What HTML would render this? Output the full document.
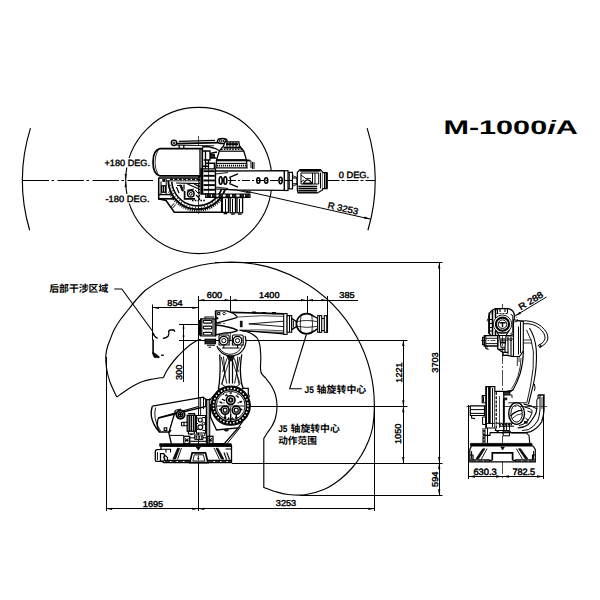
<!DOCTYPE html>
<html><head><meta charset="utf-8"><title>M-1000iA</title>
<style>
html,body{margin:0;padding:0;background:#fff;}
body{width:600px;height:600px;overflow:hidden;}
svg{display:block;font-family:"Liberation Sans",sans-serif;}
text{font-family:"Liberation Sans",sans-serif;text-rendering:geometricPrecision;}
text.cjk{font-family:"Liberation Sans","Noto Sans CJK SC",sans-serif;}
</style></head><body>
<svg width="600" height="600" viewBox="0 0 600 600" stroke="#000" fill="none" stroke-linecap="butt">
<rect x="0" y="0" width="600" height="600" fill="#fff" stroke="none"/>
<g id="top">
<circle cx="198.8" cy="180.5" r="73.1" stroke-width="1.1" fill="none" />
<rect x="103" y="158" width="49" height="9.5" fill="#fff" stroke="none"/><rect x="103" y="194" width="49" height="9.5" fill="#fff" stroke="none"/>
<path d="M367.12,128.07 A176.3,176.3 0 0 1 367.93,230.28" stroke-width="1.15" fill="none" />
<path d="M30.48,128.07 A176.3,176.3 0 0 0 29.67,230.28" stroke-width="1.15" fill="none" />
<line x1="22.5" y1="180.5" x2="153" y2="180.5" stroke-width="1.0" stroke-dasharray="26.5 2.5 2.5 3.5"/>
<line x1="327.5" y1="180.5" x2="375" y2="180.5" stroke-width="1.0" stroke-dasharray="12 2 3 2"/>
<line x1="198.5" y1="136" x2="198.5" y2="216" stroke-width="0.7" stroke-dasharray="10 2 2 2"/>
<path d="M125.80,179.90 L124.59,173.94 L126.59,173.87 Z" fill="#000" stroke="none"/>
<path d="M125.80,181.10 L126.59,187.13 L124.59,187.06 Z" fill="#000" stroke="none"/>
<line x1="243" y1="190.5" x2="370.3" y2="219.1" stroke-width="1.0" />
<path d="M370.60,219.10 L363.99,218.85 L364.52,216.51 Z" fill="#000" stroke="none"/>
<text x="104.5" y="166" font-size="9" text-anchor="start" font-weight="normal" fill="#000" stroke="#000" stroke-width="0.4" textLength="45.5" lengthAdjust="spacingAndGlyphs" >+180 DEG.</text>
<text x="105.5" y="202" font-size="9" text-anchor="start" font-weight="normal" fill="#000" stroke="#000" stroke-width="0.4" textLength="44" lengthAdjust="spacingAndGlyphs" >-180 DEG.</text>
<text x="338.7" y="177.7" font-size="9" text-anchor="start" font-weight="normal" fill="#000" stroke="#000" stroke-width="0.4" textLength="30.5" lengthAdjust="spacingAndGlyphs" >0 DEG.</text>
<text x="327.2" y="207.9" font-size="9" text-anchor="start" font-weight="normal" fill="#000" stroke="#000" stroke-width="0.4" textLength="31" lengthAdjust="spacingAndGlyphs" transform="rotate(12.65 327.2 207.9)" >R 3253</text>
<path d="M158.7,177.5 L158.7,198.8 L166,200.5 L174.3,212.3 L221.7,212.3 L221.7,197" stroke-width="1.5" fill="none" />
<path d="M158.7,178 L200,178" stroke-width="1.5" fill="none" />
<path d="M158,198.8 L174,198.8" stroke-width="1.7" fill="none" />
<path d="M158.7,194.6 L170.8,194.6" stroke-width="1.4" fill="none" />
<rect x="161.7" y="185.8" width="3.7" height="6.4" stroke-width="1.3" fill="#fff" />
<line x1="163.5" y1="186" x2="163.5" y2="192" stroke-width="1.0" />
<path d="M161,181.5 L161,194.6 M166.2,179 L166.2,194.6" stroke-width="1.0" fill="none" />
<rect x="162.8" y="179.3" width="2.2" height="2.2" stroke-width="0.8" fill="#000" />
<path d="M168.30,180.51 A29.2,29.2 0 0 0 225.27,189.02" stroke-width="1.9" fill="none" />
<path d="M171.76,181.80 A25.8,25.8 0 0 0 221.42,189.66" stroke-width="1.6" fill="none" />
<path d="M168.94,191.54 A30.8,30.8 0 0 0 221.09,199.80" stroke-width="1.9" fill="none" stroke-dasharray="1.0 1.2"/>
<path d="M170.42,184.78 A27.5,27.5 0 0 0 221.32,193.75" stroke-width="1.2" fill="none" stroke-dasharray="0.8 2.2"/>
<path d="M174.2,203.2 L170.8,207 M175.8,204.4 L172.4,208.2" stroke-width="1.0" fill="none" />
<path d="M166.7,180.8 L200,180.8" stroke-width="0.9" fill="none" />
<path d="M202.3,148.7 L160,148.7 Q153,150 153,162.3 Q153,174.6 160,175.9 L202.3,175.9 Z" stroke-width="1.7" fill="#fff" />
<line x1="200" y1="148.7" x2="200" y2="175.9" stroke-width="1.3" />
<path d="M158,150 Q155,156 155,162.3 Q155,168.6 158,174.6" stroke-width="0.8" fill="none" />
<circle cx="174" cy="142.8" r="2.7" stroke-width="1.4" fill="#fff" />
<circle cx="174" cy="142.8" r="0.9" stroke-width="1.0" fill="none" />
<path d="M176.8,143.6 L218.5,142.6" stroke-width="1.9" fill="none" />
<path d="M178.8,141.4 L215,140.4" stroke-width="1.1" fill="none" />
<path d="M176.5,145.2 L214,145.8" stroke-width="0.9" fill="none" />
<path d="M179.2,145 L179.2,148.5 M183.8,145 L183.8,148.5" stroke-width="1.3" fill="none" />
<ellipse cx="222.3" cy="141.0" rx="4.8" ry="2.6" stroke-width="1.5" fill="#fff" />
<ellipse cx="220.8" cy="141.0" rx="1.3" ry="1.3" stroke-width="1.0" fill="none" />
<ellipse cx="224.6" cy="141.0" rx="1.2" ry="1.2" stroke-width="1.0" fill="none" />
<path d="M225,141.8 L238.8,141.8 L239.5,146 L243.7,150.8 L246.5,160 L247,167.8 L216,167.8 L216.5,160 L219.4,150.8 L223.5,146 Z" stroke-width="1.3" fill="#fff" />
<path d="M226,144.2 L238,144.2" stroke-width="2.0" fill="none" />
<path d="M223.5,147.6 L241,147.6" stroke-width="2.0" fill="none" />
<path d="M227,142.3 L227,146.5 M230,142 L230,146.5 M233,142 L233,146.5 M236,142.3 L236,146.5" stroke-width="1.2" fill="none" />
<path d="M221,149.3 L242.5,149.3" stroke-width="1.2" fill="none" stroke-dasharray="1.6 1.2"/>
<path d="M219.4,151.2 L243.7,151.2" stroke-width="1.2" fill="none" />
<path d="M216.5,160.2 L246.5,160.2" stroke-width="2.2" fill="none" />
<path d="M216.5,163.4 L247,163.4" stroke-width="1.1" fill="none" />
<path d="M217,165.7 L247,165.7" stroke-width="1.8" fill="none" stroke-dasharray="1.2 0.8"/>
<path d="M247,160 L251,161 L251,168 M252.5,162 L252.5,169 M254,162 L254,169" stroke-width="1.0" fill="none" />
<path d="M246.5,160.5 L250,160.5" stroke-width="1.8" fill="none" />
<path d="M202.3,151 L210,151 L210,160 L203.7,160 M205.5,151 L205.5,170 M208.5,160 L208.5,169" stroke-width="1.3" fill="none" />
<path d="M210,153.5 L217,152 M210,158 L216.5,158 M208,146.5 L215.5,148.5 L219,150.5 M202,147 L208,146.5" stroke-width="1.3" fill="none" />
<path d="M206,163.2 L214.5,163.2 L214.5,169 M202.3,166.3 L208.5,166.3" stroke-width="1.5" fill="none" />
<rect x="210.5" y="154.5" width="4" height="3" stroke-width="0.9" fill="#222" />
<path d="M201,168.8 L215.5,168.8 L215.5,193.8 L201,193.8 Z" stroke-width="1.3" fill="#fff" />
<line x1="203.5" y1="171.2" x2="214.8" y2="171.2" stroke-width="1.9" />
<line x1="203.5" y1="175.8" x2="214.8" y2="175.8" stroke-width="1.9" />
<line x1="203.5" y1="180.5" x2="214.8" y2="180.5" stroke-width="1.9" />
<line x1="203.5" y1="185.1" x2="214.8" y2="185.1" stroke-width="1.9" />
<line x1="203.5" y1="189.8" x2="214.8" y2="189.8" stroke-width="1.9" />
<line x1="202.2" y1="168.8" x2="202.2" y2="193.8" stroke-width="2.2" />
<line x1="208.5" y1="169" x2="208.5" y2="193.5" stroke-width="0.7" />
<path d="M215.5,171 L284.4,170.7 L284.4,190.4 L237,190 L215.5,189 Z" stroke-width="1.3" fill="#fff" />
<rect x="284.4" y="170.7" width="3.6" height="19.8" stroke-width="1.2" fill="#fff" />
<rect x="289.2" y="172.3" width="3.3" height="16.6" stroke-width="1.2" fill="#fff" />
<line x1="288" y1="172.5" x2="289.2" y2="172.5" stroke-width="1.0" />
<line x1="288" y1="188.5" x2="289.2" y2="188.5" stroke-width="1.0" />
<ellipse cx="220.7" cy="180.5" rx="1.5" ry="3.7" stroke-width="1.6" fill="#fff" />
<ellipse cx="225.3" cy="180.5" rx="1.5" ry="3.7" stroke-width="1.6" fill="#fff" />
<ellipse cx="258.3" cy="180.5" rx="1.6" ry="2.7" stroke-width="1.6" fill="#fff" />
<ellipse cx="266.2" cy="180.5" rx="1.6" ry="2.7" stroke-width="1.6" fill="#fff" />
<ellipse cx="280.6" cy="180.5" rx="1.6" ry="3.2" stroke-width="1.6" fill="#fff" />
<path d="M238,173.8 L229.5,177.3 M229.5,183.7 L238,187.2 M229.5,177.3 Q232,180.5 229.5,183.7" stroke-width="1.3" fill="none" />
<path d="M215.5,174 L228,172.5 M215.5,187 L228,188.5" stroke-width="0.9" fill="none" />
<line x1="228" y1="180.5" x2="300" y2="180.5" stroke-width="1.0" stroke-dasharray="8 2 2 2"/>
<path d="M205.7,194 L250,194 L250,197.4 L205.7,197.4 Z" stroke-width="1.1" fill="#fff" />
<rect x="207" y="194.5" width="3.4" height="2.5" stroke-width="0.8" fill="#222" />
<rect x="212.5" y="194.5" width="3.4" height="2.5" stroke-width="0.8" fill="#222" />
<rect x="219" y="194.5" width="3.4" height="2.5" stroke-width="0.8" fill="#222" />
<rect x="226" y="194.5" width="3.4" height="2.5" stroke-width="0.8" fill="#222" />
<rect x="232.5" y="194.5" width="3.4" height="2.5" stroke-width="0.8" fill="#222" />
<rect x="240" y="194.5" width="3.4" height="2.5" stroke-width="0.8" fill="#222" />
<rect x="245.5" y="194.5" width="3.4" height="2.5" stroke-width="0.8" fill="#222" />
<path d="M237,190.2 L250,193 L250,190.6" stroke-width="1.0" fill="none" />
<rect x="222.3" y="197.6" width="6.2" height="14.8" stroke-width="1.3" fill="#fff" />
<rect x="230.2" y="197.6" width="5.3" height="15.2" stroke-width="1.3" fill="#fff" />
<rect x="237" y="197.6" width="5.6" height="15.2" stroke-width="1.3" fill="#fff" />
<line x1="225.5" y1="199" x2="225.5" y2="212" stroke-width="1.0" />
<line x1="232.5" y1="199" x2="232.5" y2="212.5" stroke-width="1.0" />
<line x1="239.5" y1="199" x2="239.5" y2="212.5" stroke-width="1.0" />
<path d="M223.7,213.6 L227.3,213.6 M231.2,214.2 L234.6,214.2 M238,214.2 L241.6,214.2" stroke-width="1.2" fill="none" />
<path d="M184.6,190.8 L184.6,198.8 L195,198.8" stroke-width="1.7" fill="none" />
<circle cx="190.8" cy="193.8" r="3.3" stroke-width="1.5" fill="#fff" />
<circle cx="190.8" cy="193.8" r="1.4" stroke-width="1.0" fill="none" />
<path d="M195,190 L198,193 M187,190.3 L194,189" stroke-width="1.0" fill="none" />
<path d="M179.6,185 L182,191 L183.5,191 L181.5,185 Z" stroke-width="0.8" fill="#111" />
<path d="M176,183 L199,183.6 M177,185.5 L181,185.5 M184,184.5 L184,189.5 M187.5,184 L199,189 M176.5,187 L179,193 M194,184 L199,186.5" stroke-width="1.2" fill="none" />
<path d="M170,179.3 L199,179.3" stroke-width="1.4" fill="none" stroke-dasharray="3 1.4"/>
<path d="M192,200.6 L206,200.6" stroke-width="1.5" fill="none" stroke-dasharray="1.6 1.2"/>
<path d="M199.2,176 L199.2,200" stroke-width="1.8" fill="none" stroke-dasharray="2.2 0.9"/>
<path d="M196,195 L199,198 M200.5,194 L205.7,194" stroke-width="1.2" fill="none" />
<rect x="292.5" y="178" width="4.5" height="5.8" stroke-width="1.1" fill="#fff" />
<path d="M292.5,175.5 L297,177.5 M292.5,186.3 L297,184.3" stroke-width="0.9" fill="none" />
<path d="M297.3,172.5 L300,169.6 L320.6,169.6 L322.5,172 L322.5,190 L317.5,193 L298,193 L297.3,190 Z" stroke-width="1.2" fill="#fff" />
<path d="M300,170.5 L320.6,170.5" stroke-width="2.4" fill="none" />
<line x1="298.3" y1="186.4" x2="317.2" y2="186.4" stroke-width="1.4" />
<line x1="298.3" y1="188.4" x2="317.2" y2="188.4" stroke-width="1.4" />
<line x1="298.3" y1="190.4" x2="317.2" y2="190.4" stroke-width="1.4" />
<line x1="298.3" y1="192.2" x2="317.2" y2="192.2" stroke-width="1.4" />
<path d="M301,173 L318.7,173 L318.7,184 L301,184 Z" stroke-width="1.0" fill="none" />
<path d="M303,184 Q307.5,175.8 312.3,184" stroke-width="1.2" fill="none" />
<path d="M301,175.2 L305,177.8 M301,181.8 L304,180" stroke-width="0.9" fill="none" />
<path d="M312.5,173 L312.5,184 M315,173 L315,184" stroke-width="1.0" fill="none" />
<path d="M304,183.4 L312,183.4" stroke-width="1.6" fill="none" />
<path d="M305,178.5 L311,178.5" stroke-width="0.8" fill="none" />
<line x1="320.5" y1="172.6" x2="320.5" y2="188.6" stroke-width="1.0" />
<path d="M322.5,172.6 L327,172.6 L327,188.6 L322.5,188.6" stroke-width="1.2" fill="#fff" />
<line x1="326.6" y1="172.6" x2="326.6" y2="188.6" stroke-width="2.2" />
<line x1="324.5" y1="173" x2="324.5" y2="188.3" stroke-width="1.0" />
</g>
<g id="side">
<path d="M116.70,397.00 C116.12,395.75 114.32,392.00 113.20,389.50 C112.08,387.00 111.00,384.92 110.00,382.00 C109.00,379.08 107.88,375.33 107.20,372.00 C106.52,368.67 106.10,365.00 105.90,362.00 C105.70,359.00 105.75,356.50 106.00,354.00 C106.25,351.50 106.73,349.33 107.40,347.00 C108.07,344.67 108.90,342.83 110.00,340.00 C111.10,337.17 112.25,333.42 114.00,330.00 C115.75,326.58 118.17,322.83 120.50,319.50 C122.83,316.17 125.42,313.25 128.00,310.00 C130.58,306.75 133.17,303.25 136.00,300.00 C138.83,296.75 143.50,292.08 145.00,290.50 A143.6,143.6 0 0 1 373.95,416.02 L374.00,416.00 C373.75,418.00 373.42,423.83 372.50,428.00 C371.58,432.17 370.33,436.50 368.50,441.00 C366.67,445.50 364.25,450.50 361.50,455.00 C358.75,459.50 355.58,463.92 352.00,468.00 C348.42,472.08 344.50,476.00 340.00,479.50 C335.50,483.00 330.83,486.45 325.00,489.00 C319.17,491.55 311.17,493.88 305.00,494.80 C298.83,495.72 293.00,495.05 288.00,494.50 C283.00,493.95 279.03,492.67 275.00,491.50 C270.97,490.33 265.67,488.17 263.80,487.50 L263.8,438.5 L263.80,438.50 C264.42,437.50 266.13,434.58 267.50,432.50 C268.87,430.42 270.67,428.42 272.00,426.00 C273.33,423.58 274.67,421.33 275.50,418.00 C276.33,414.67 277.00,409.83 277.00,406.00 C277.00,402.17 276.42,398.33 275.50,395.00 C274.58,391.67 273.08,388.75 271.50,386.00 C269.92,383.25 267.67,380.58 266.00,378.50 C264.33,376.42 262.42,375.25 261.50,373.50 C260.58,371.75 260.62,370.75 260.50,368.00 C260.38,365.25 260.92,360.83 260.80,357.00 C260.68,353.17 260.35,348.08 259.80,345.00 C259.25,341.92 258.80,340.33 257.50,338.50 C256.20,336.67 253.92,335.17 252.00,334.00 C250.08,332.83 247.92,332.13 246.00,331.50 C244.08,330.87 241.42,330.42 240.50,330.20" stroke-width="1.15" fill="none" />
<path d="M116.70,397.00 C118.37,395.83 123.65,392.00 126.70,390.00 C129.75,388.00 132.23,386.45 135.00,385.00 C137.77,383.55 140.52,382.27 143.30,381.30 C146.08,380.33 148.92,379.78 151.70,379.20 C154.48,378.62 158.07,378.10 160.00,377.80 C161.93,377.50 162.33,378.28 163.30,377.40 C164.27,376.52 164.68,374.43 165.80,372.50 C166.92,370.57 168.18,368.30 170.00,365.80 C171.82,363.30 174.48,360.00 176.70,357.50 C178.92,355.00 181.08,352.88 183.30,350.80 C185.52,348.72 187.77,346.67 190.00,345.00 C192.23,343.33 194.90,341.73 196.70,340.80 C198.50,339.87 200.12,339.63 200.80,339.40" stroke-width="1.15" fill="none" />
<line x1="106.5" y1="357" x2="106.5" y2="511" stroke-width="1.0" />
<line x1="374.5" y1="404" x2="374.5" y2="511" stroke-width="1.0" />
<line x1="198.5" y1="296" x2="198.5" y2="511" stroke-width="1.0" />
<line x1="230.5" y1="296" x2="230.5" y2="331" stroke-width="1.0" />
<line x1="230.5" y1="333" x2="230.5" y2="356" stroke-width="0.6" stroke-dasharray="9 2 2 2"/>
<line x1="307.5" y1="296" x2="307.5" y2="334" stroke-width="1.0" />
<line x1="327.5" y1="296" x2="327.5" y2="332.5" stroke-width="1.0" />
<line x1="152.5" y1="304.5" x2="152.5" y2="340" stroke-width="1.0" />
<line x1="198.3" y1="300.5" x2="358" y2="300.5" stroke-width="1.0" />
<path d="M198.30,300.20 L204.30,299.05 L204.30,301.35 Z" fill="#000" stroke="none"/>
<path d="M230.70,300.20 L224.70,301.35 L224.70,299.05 Z" fill="#000" stroke="none"/>
<path d="M230.70,300.20 L236.70,299.05 L236.70,301.35 Z" fill="#000" stroke="none"/>
<path d="M307.00,300.20 L301.00,301.35 L301.00,299.05 Z" fill="#000" stroke="none"/>
<path d="M307.00,300.20 L313.00,299.05 L313.00,301.35 Z" fill="#000" stroke="none"/>
<path d="M327.30,300.20 L321.30,301.35 L321.30,299.05 Z" fill="#000" stroke="none"/>
<text x="214.5" y="298" font-size="8.5" text-anchor="middle" font-weight="normal" fill="#000" stroke="#000" stroke-width="0.42" textLength="15.3" lengthAdjust="spacingAndGlyphs" >600</text>
<text x="269.3" y="298" font-size="8.5" text-anchor="middle" font-weight="normal" fill="#000" stroke="#000" stroke-width="0.42" textLength="20.4" lengthAdjust="spacingAndGlyphs" >1400</text>
<text x="347" y="298" font-size="8.5" text-anchor="middle" font-weight="normal" fill="#000" stroke="#000" stroke-width="0.42" textLength="15.3" lengthAdjust="spacingAndGlyphs" >385</text>
<line x1="153" y1="307.5" x2="198.3" y2="307.5" stroke-width="1.0" />
<path d="M153.00,307.80 L159.00,306.65 L159.00,308.95 Z" fill="#000" stroke="none"/>
<path d="M198.30,307.80 L192.30,308.95 L192.30,306.65 Z" fill="#000" stroke="none"/>
<text x="175" y="305.6" font-size="8.5" text-anchor="middle" font-weight="normal" fill="#000" stroke="#000" stroke-width="0.42" textLength="15.3" lengthAdjust="spacingAndGlyphs" >854</text>
<line x1="179" y1="324.5" x2="212" y2="324.5" stroke-width="1.0" />
<line x1="179" y1="340.5" x2="407.5" y2="340.5" stroke-width="1.0" />
<line x1="183.5" y1="324.3" x2="183.5" y2="382" stroke-width="1.0" />
<path d="M183.50,324.30 L184.50,328.80 L182.50,328.80 Z" fill="#000" stroke="none"/>
<path d="M183.50,340.00 L182.50,335.50 L184.50,335.50 Z" fill="#000" stroke="none"/>
<text x="181.8" y="372.4" font-size="8.5" text-anchor="middle" font-weight="normal" fill="#000" stroke="#000" stroke-width="0.42" textLength="15.3" lengthAdjust="spacingAndGlyphs" transform="rotate(-90 181.8 372.4)" >300</text>
<line x1="212" y1="323.5" x2="300" y2="323.5" stroke-width="0.6" stroke-dasharray="9 2 2 2"/>
<line x1="250" y1="406.5" x2="407.5" y2="406.5" stroke-width="1.0" />
<line x1="232" y1="463.5" x2="442.5" y2="463.5" stroke-width="1.0" />
<line x1="300" y1="495.5" x2="442.5" y2="495.5" stroke-width="1.0" />
<line x1="215" y1="262.5" x2="442.5" y2="262.5" stroke-width="1.0" />
<line x1="403.5" y1="340.0" x2="403.5" y2="463.0" stroke-width="1.0" />
<path d="M403.30,340.00 L404.45,346.00 L402.15,346.00 Z" fill="#000" stroke="none"/>
<path d="M403.30,406.30 L402.15,400.30 L404.45,400.30 Z" fill="#000" stroke="none"/>
<path d="M403.30,406.30 L404.45,412.30 L402.15,412.30 Z" fill="#000" stroke="none"/>
<path d="M403.30,463.00 L402.15,457.00 L404.45,457.00 Z" fill="#000" stroke="none"/>
<text x="401.5" y="372.5" font-size="8.5" text-anchor="middle" font-weight="normal" fill="#000" stroke="#000" stroke-width="0.42" textLength="20.4" lengthAdjust="spacingAndGlyphs" transform="rotate(-90 401.5 372.5)" >1221</text>
<text x="401.5" y="433.8" font-size="8.5" text-anchor="middle" font-weight="normal" fill="#000" stroke="#000" stroke-width="0.42" textLength="20.4" lengthAdjust="spacingAndGlyphs" transform="rotate(-90 401.5 433.8)" >1050</text>
<line x1="439.5" y1="262.5" x2="439.5" y2="495.2" stroke-width="1.0" />
<path d="M439.20,262.50 L440.35,268.50 L438.05,268.50 Z" fill="#000" stroke="none"/>
<path d="M439.20,463.00 L438.05,457.00 L440.35,457.00 Z" fill="#000" stroke="none"/>
<path d="M439.20,463.00 L440.35,469.00 L438.05,469.00 Z" fill="#000" stroke="none"/>
<path d="M439.20,495.20 L438.05,489.20 L440.35,489.20 Z" fill="#000" stroke="none"/>
<text x="437.6" y="362.5" font-size="8.5" text-anchor="middle" font-weight="normal" fill="#000" stroke="#000" stroke-width="0.42" textLength="20.4" lengthAdjust="spacingAndGlyphs" transform="rotate(-90 437.6 362.5)" >3703</text>
<text x="437.8" y="479.3" font-size="8.5" text-anchor="middle" font-weight="normal" fill="#000" stroke="#000" stroke-width="0.42" textLength="15.3" lengthAdjust="spacingAndGlyphs" transform="rotate(-90 437.8 479.3)" >594</text>
<line x1="106.2" y1="508.5" x2="374.3" y2="508.5" stroke-width="1.0" />
<path d="M106.20,508.80 L112.20,507.65 L112.20,509.95 Z" fill="#000" stroke="none"/>
<path d="M198.30,508.80 L192.30,509.95 L192.30,507.65 Z" fill="#000" stroke="none"/>
<path d="M198.30,508.80 L204.30,507.65 L204.30,509.95 Z" fill="#000" stroke="none"/>
<path d="M374.30,508.80 L368.30,509.95 L368.30,507.65 Z" fill="#000" stroke="none"/>
<text x="153" y="506.6" font-size="8.5" text-anchor="middle" font-weight="normal" fill="#000" stroke="#000" stroke-width="0.42" textLength="20.4" lengthAdjust="spacingAndGlyphs" >1695</text>
<text x="286" y="506" font-size="8.5" text-anchor="middle" font-weight="normal" fill="#000" stroke="#000" stroke-width="0.42" textLength="20.4" lengthAdjust="spacingAndGlyphs" >3253</text>
<text class="cjk" x="49.2" y="292.3" font-size="9.9" font-weight="bold" text-anchor="start" fill="#000" stroke="none" textLength="59.1" lengthAdjust="spacingAndGlyphs">后部干涉区域</text>
<path d="M114.3,289 L121.8,289 L152.8,331.5" stroke-width="1.1" fill="none" />
<text x="304.6" y="393.2" font-size="9.6" text-anchor="start" font-weight="bold" fill="#000" stroke="#000" stroke-width="0.1" textLength="9.3" lengthAdjust="spacingAndGlyphs" >J5</text>
<text class="cjk" x="316.6" y="393.2" font-size="9.9" font-weight="bold" text-anchor="start" fill="#000" stroke="none" textLength="49.7" lengthAdjust="spacingAndGlyphs">轴旋转中心</text>
<path d="M306.5,334 L289.7,388.8 L301.8,388.8" stroke-width="1.1" fill="none" />
<text x="278.2" y="431.6" font-size="9.6" text-anchor="start" font-weight="bold" fill="#000" stroke="#000" stroke-width="0.1" textLength="9.3" lengthAdjust="spacingAndGlyphs" >J5</text>
<text class="cjk" x="290.6" y="431.6" font-size="9.9" font-weight="bold" text-anchor="start" fill="#000" stroke="none" textLength="49.2" lengthAdjust="spacingAndGlyphs">轴旋转中心</text>
<text class="cjk" x="278.2" y="444.2" font-size="9.8" font-weight="bold" text-anchor="start" fill="#000" stroke="none" textLength="38.6" lengthAdjust="spacingAndGlyphs">动作范围</text>
<path d="M152.9,332.7 Q154,336.6 157.6,338.4" stroke-width="1.3" fill="none" />
<path d="M162.8,338.4 Q166.6,338.3 168.5,335.6 Q169.4,333.4 168.6,331.5 Q168.9,330 170.5,330 L173.6,330 Q174.7,330.3 174.7,331.8" stroke-width="1.3" fill="none" />
<path d="M153.1,339.5 L153.1,354" stroke-width="1.6" fill="none" />
<path d="M152.6,352.5 L154.8,353.2 L159.4,356.8 L159,357.8 L154.2,357.5 L153,355 Z" stroke-width="0.6" fill="#000" />
<path d="M161,355.2 L163.9,355.2" stroke-width="1.3" fill="none" />
<path d="M161,446 L231.5,446 L231.5,462.6 L164,462.6 L161.5,461.4 L156.5,461.4 Q155.3,461.4 155.3,460 L155.3,451.5 Q155.3,450 157,449.7 L161,449.3 Z" stroke-width="1.3" fill="#fff" />
<path d="M159.7,443.7 L231.3,443.7 L231.3,446.2 L159.7,446.2 Z" stroke-width="0.8" fill="#000" />
<path d="M192.2,452.8 L205.5,452.8 L208,462.6 L189.7,462.6 Z" stroke-width="1.7" fill="#fff" />
<path d="M194.3,454.8 L203.4,454.8 L204.8,461 L192.9,461 Z" stroke-width="0.9" fill="none" />
<path d="M198.3,455.5 L198.3,460.5 M197.3,458.5 L199.3,458.5" stroke-width="0.9" fill="none" />
<path d="M177.5,448.3 L173,459 L175.6,459 L179.6,448.3 Z" stroke-width="0.8" fill="#111" />
<path d="M218,448.3 L223.8,459 L221.4,459 L216,448.3 Z" stroke-width="0.8" fill="#111" />
<path d="M181.5,448 L177.5,459.5 M214,448 L219.5,459.5" stroke-width="0.9" fill="none" />
<path d="M164,460.4 L189.7,460.4 M208,460.4 L231,460.4" stroke-width="1.1" fill="none" />
<path d="M165,461.6 L189,461.6 M208.5,461.6 L231,461.6" stroke-width="0.9" fill="none" stroke-dasharray="5 1.5"/>
<path d="M161,449.2 L170.5,449.2 L170.5,452.5 M166,449.2 L166,452.5" stroke-width="1.1" fill="none" />
<path d="M160.5,453.7 L163.8,453.7 Q165.3,455.3 163.8,457.2 Q165.6,459 163.8,461.2 L160.5,461.2 Z" stroke-width="1.3" fill="none" />
<path d="M157.5,452 L157.5,460" stroke-width="0.9" fill="none" />
<path d="M164.5,455 L167.5,457.5 L167.5,460.4" stroke-width="1.1" fill="none" />
<path d="M225.5,449 L231.5,449 M226.8,452.5 L229.5,459.5 M224,452.5 L226.6,459.5" stroke-width="1.1" fill="none" />
<path d="M196.2,447 L200.4,447 L198.3,450.2 Z" stroke-width="0.6" fill="#000" />
<rect x="183.8" y="436.3" width="5.9" height="7.4" stroke-width="1.3" fill="#fff" />
<rect x="207.2" y="436.3" width="5.8" height="7.4" stroke-width="1.3" fill="#fff" />
<path d="M185,438 L188.5,442.5 M188.5,438 L185,442.5 M208.4,438 L211.8,442.5 M211.8,438 L208.4,442.5" stroke-width="0.9" fill="none" />
<path d="M185,440.2 L188.6,440.2 M208.4,440.2 L211.8,440.2" stroke-width="1.4" fill="none" />
<path d="M189.7,441.3 L207.2,441.3" stroke-width="1.1" fill="none" />
<path d="M194.7,435 L203,435 L203,439.4 L194.7,439.4 Z" stroke-width="1.0" fill="#fff" />
<path d="M195.5,436.6 L202.5,436.6 M195.5,438.2 L202.5,438.2" stroke-width="1.3" fill="none" stroke-dasharray="1.8 0.9"/>
<path d="M190,437.8 L194.7,437.8 M203,437.8 L207,437.8" stroke-width="1.0" fill="none" />
<path d="M152.3,406.2 L203.3,397.1 L205.8,399.5 L205.8,406.5 L158.5,418 Q155.5,424 159.4,432 L169.5,432 L171,430" stroke-width="1.3" fill="#fff" />
<path d="M152.3,406.2 Q150.6,411 151.3,416.2 Q152.6,424.5 159.4,432" stroke-width="1.4" fill="none" />
<path d="M155.5,407.6 Q154.3,413 155.2,418.5 Q156.5,425.5 160.6,431" stroke-width="0.9" fill="none" />
<path d="M158.2,417.9 L198.5,406.5" stroke-width="1.2" fill="none" />
<path d="M198.8,398 L198.8,408.5" stroke-width="1.1" fill="none" />
<path d="M203.5,397.2 L203.5,409" stroke-width="1.0" fill="none" />
<rect x="164.2" y="427.8" width="2.6" height="2.6" stroke-width="1.1" fill="none" />
<path d="M175.5,410.3 L168.8,432.8 L171.3,443.5" stroke-width="1.3" fill="none" />
<path d="M175.5,410.3 L181,409" stroke-width="1.1" fill="none" />
<path d="M169.3,435.4 L183.8,435.4" stroke-width="1.0" fill="none" />
<circle cx="180.5" cy="414.6" r="4.1" stroke-width="1.9" fill="#fff" />
<circle cx="180.5" cy="414.6" r="2.2" stroke-width="1.3" fill="none" />
<path d="M178.3,414.6 L182.7,414.6 M180.5,412.4 L180.5,416.8" stroke-width="1.1" fill="none" />
<rect x="187.2" y="415.3" width="8.3" height="15.9" stroke-width="1.3" fill="#fff" />
<path d="M189.2,415.3 L189.2,431.2 M191.3,415.3 L191.3,431.2 M193.6,415.3 L193.6,431.2" stroke-width="1.5" fill="none" />
<path d="M188.2,413.6 L194.5,413.6 L194.5,415.3 M188.5,431.2 L188.5,434 L194.3,434 L194.3,431.2" stroke-width="1.2" fill="none" />
<path d="M190.3,434.3 L192.5,434.3" stroke-width="1.6" fill="none" />
<path d="M181.5,422.3 L187.2,422.3 M181.5,425.8 L187.2,425.8 M181.5,422.3 L181.5,425.8 M184,422.3 L184,425.8" stroke-width="1.1" fill="none" />
<path d="M196.4,415.5 L205.5,415.5 L205.5,433 L196.4,433 Z" stroke-width="1.1" fill="#fff" />
<circle cx="200.3" cy="420" r="2.0" stroke-width="1.2" fill="none" />
<circle cx="200.3" cy="427.3" r="2.4" stroke-width="1.2" fill="none" />
<circle cx="203.6" cy="423.6" r="1.3" stroke-width="1.0" fill="none" />
<path d="M196.4,418 L198.3,418 M196.4,423.5 L198,423.5 M196.4,429.5 L198,429.5 M202.5,430.5 L205.5,430.5 M202,417.5 L205.5,417.5" stroke-width="1.1" fill="none" />
<path d="M197,433 L197,435 M204.8,433 L204.8,436" stroke-width="1.0" fill="none" />
<path d="M206.4,398.7 L206.4,443.5 M209.7,398.5 L209.7,443.5" stroke-width="1.1" fill="none" />
<path d="M208,399 L208,443" stroke-width="0.7" fill="none" />
<path d="M200.6,397.8 L200.6,415.5" stroke-width="0.9" fill="none" />
<path d="M210.5,404 L210.5,417 L216.5,430 L238.3,427.8 L224.3,443.7 L213.5,443.7 M238.3,427.8 L243.5,420" stroke-width="1.3" fill="none" />
<path d="M240.6,427 L227,443.7" stroke-width="1.0" fill="none" />
<ellipse cx="226.4" cy="430.2" rx="1.9" ry="0.9" stroke-width="0.9" fill="#333" />
<path d="M219.7,354 L220.1,370 L219.2,384 L218.3,389.5 L243.3,388.5 L241.7,384 L240.3,370 L241.7,354 Z" stroke-width="0.1" fill="#fff" stroke="none"/>
<path d="M219.7,354.5 Q220.3,363 220.1,370 Q219.9,378 219.2,384 L218.3,389.5" stroke-width="1.3" fill="none" />
<path d="M241.7,354.5 Q240.5,363 240.3,370 Q240.6,378 241.7,384 L243.3,388.5" stroke-width="1.3" fill="none" />
<path d="M221.3,357 L226.8,383.5 M223.5,356.5 L224.8,372 L221.8,385 M227,358.3 L222.6,372" stroke-width="0.9" fill="none" />
<path d="M239.8,357 L234.6,383.5 M237.8,356.5 L236.5,372 L239.2,385 M234.4,358.3 L238.4,372" stroke-width="0.9" fill="none" />
<path d="M230.3,357.5 L221.6,384 M231.3,357.5 L240.2,384" stroke-width="0.8" fill="none" />
<path d="M229.3,360.6 L229.3,383.5 M232.5,360.6 L232.5,383.5" stroke-width="1.2" fill="none" />
<path d="M226.8,355.8 L234.2,355.8 L232.5,360.8 L229.3,360.8 Z" stroke-width="0.9" fill="#111" />
<path d="M222.2,384.5 L226,387 M239.5,384.5 L236,387" stroke-width="0.9" fill="none" />
<circle cx="230.7" cy="405.7" r="19.6" stroke-width="1.1" fill="#fff" />
<circle cx="230.7" cy="405.7" r="17.3" stroke-width="4.4" fill="none" />
<circle cx="230.7" cy="405.7" r="17.3" stroke-width="1.7" fill="none" stroke="#fff" stroke-dasharray="0.1 3.297" stroke-linecap="round"/>
<circle cx="230.7" cy="405.7" r="14.4" stroke-width="0.9" fill="none" />
<circle cx="230.7" cy="400" r="4.3" stroke-width="1.7" fill="#fff" />
<circle cx="230.7" cy="400" r="2.15" stroke-width="1.2" fill="none" />
<circle cx="225.1" cy="410.2" r="4.0" stroke-width="1.7" fill="#fff" />
<circle cx="225.1" cy="410.2" r="2.0" stroke-width="1.2" fill="none" />
<circle cx="236.3" cy="410.2" r="4.0" stroke-width="1.7" fill="#fff" />
<circle cx="236.3" cy="410.2" r="2.0" stroke-width="1.2" fill="none" />
<path d="M225.1,414.3 L225.1,419 M236.3,414.3 L236.3,419 M230.7,414 L230.7,420.5" stroke-width="1.4" fill="none" />
<rect x="229.5" y="398.8" width="2.4" height="2.4" stroke-width="0.9" fill="none" />
<path d="M224,417 L226.2,417 L225.1,419.6 Z M235.2,417 L237.4,417 L236.3,419.6 Z M229.6,418.5 L231.8,418.5 L230.7,421 Z" stroke-width="0.5" fill="#000" />
<path d="M221.8,399 L225,400.6 M236.4,395.8 L238.8,397.6 M229.6,393 L231.8,393 M226,394.2 L227.4,396.2" stroke-width="1.3" fill="none" />
<path d="M223,393.8 L226,396 M238.5,394 L235.5,396 M221,403 L224.5,403 M237.5,403 L241,402" stroke-width="1.0" fill="none" stroke-dasharray="1.4 1"/>
<path d="M241.7,388.3 L248.3,388.3 L248.3,394 L249.6,397" stroke-width="1.2" fill="none" />
<path d="M206.7,399.6 L210.2,399.6 L220,388.5" stroke-width="1.2" fill="none" />
<path d="M216.5,406 L245,406" stroke-width="0.9" fill="none" />
<path d="M230.7,407 L230.7,414" stroke-width="0.9" fill="none" />
<path d="M219,409.5 L221.5,409.5 M239.8,409.5 L242.4,409.5 M219.5,402 L222,402.6 M239.4,402 L242,401.5 M227.5,420 L229,417.5 M233.8,420 L232.3,417.5" stroke-width="1.3" fill="none" />
<path d="M216.9,346 A14.6,14.6 0 0 0 245,336" stroke-width="1.2" fill="#fff" />
<path d="M219,347.5 A12.6,12.6 0 0 0 242.8,342" stroke-width="0.9" fill="none" />
<path d="M219,336 Q219,335 220.5,335 L228,335 Q229.2,335 229.2,336.5 L229.2,345 L219,345 Z" stroke-width="1.1" fill="#fff" />
<path d="M232.4,336.5 Q232.4,335 233.8,335 L241.5,335 Q243.2,335 243.2,336.5 L243.2,345 L232.4,345 Z" stroke-width="1.1" fill="#fff" />
<circle cx="223.8" cy="340.6" r="4.3" stroke-width="1.3" fill="#fff" />
<circle cx="223.8" cy="340.6" r="2.1" stroke-width="1.0" fill="none" />
<circle cx="237.5" cy="340.6" r="4.3" stroke-width="1.3" fill="#fff" />
<circle cx="237.5" cy="340.6" r="2.1" stroke-width="1.0" fill="none" />
<path d="M223.8,345 L223.8,348 M237.5,345 L237.5,348 M222,348 L239.5,348" stroke-width="1.0" fill="none" />
<path d="M226,311.2 L240,312.2 L283.7,313.7 L283.7,334 L250,332 L236,330.3 L226,330 Z" stroke-width="1.0" fill="#fff" stroke="none"/>
<path d="M231,312.3 L283.7,313.8" stroke-width="1.7" fill="none" />
<path d="M240,330.3 L283.7,333.9" stroke-width="1.2" fill="none" />
<path d="M242.5,331.2 L283.7,332.4" stroke-width="0.8" fill="none" />
<rect x="240.3" y="321.2" width="1.8" height="5.6" stroke-width="0.8" fill="#111" />
<path d="M248.8,323.9 L283.7,321.2 M248.8,323.9 L283.7,326.6" stroke-width="0.9" fill="none" />
<path d="M238.2,317 Q262,314.8 283.7,316.4 M238.8,330.2 Q262,329.2 283.7,330.8" stroke-width="0.7" fill="none" />
<path d="M252,312.5 L256,312.5 M262,313 L266,313 M272,313.2 L276,313.2" stroke-width="2.2" fill="none" />
<path d="M215.6,310.8 L226.7,310.8 Q233,312.3 236.9,316.4 Q237.6,317.2 236.6,317.6 Q229,319.8 216,323.2 Z" stroke-width="1.3" fill="#fff" />
<path d="M216,325 Q229,326.4 236.8,329.8 Q237.8,330.4 236.8,330.9 Q230,333.6 225,332.8 L215.5,335 Z" stroke-width="1.3" fill="#fff" />
<path d="M215.6,311 L215.6,336.5" stroke-width="1.5" fill="none" />
<rect x="217.7" y="312.6" width="2.1" height="2.1" stroke-width="1.0" fill="none" />
<path d="M224.2,312.1 L225.7,313.6 L224.2,315.1 L222.7,313.6 Z" stroke-width="1.0" fill="none" />
<circle cx="217.2" cy="318.2" r="0.9" stroke-width="0.8" fill="#000" />
<path d="M200.6,318.8 L215,318.8 L215,336 L200.6,336 Z" stroke-width="1.2" fill="#fff" />
<path d="M199.7,320 L199.7,335.5" stroke-width="2.2" fill="none" />
<rect x="203.2" y="320.4" width="8.6" height="2.7" rx="1.2" stroke-width="1.2" fill="#fff"/>
<rect x="203.2" y="326.2" width="8.6" height="2.7" rx="1.2" stroke-width="1.2" fill="#fff"/>
<rect x="203.2" y="332.3" width="8.6" height="2.7" rx="1.2" stroke-width="1.2" fill="#fff"/>
<path d="M213,318.8 L213,336 M201.8,318.8 L201.8,336 M205,318.8 L205,317 L214,317" stroke-width="1.1" fill="none" />
<rect x="205" y="339.2" width="10.6" height="4.6" stroke-width="1.0" fill="#222" />
<path d="M207,345.2 L215,345.2 M208.5,347.2 L211,347.2" stroke-width="1.1" fill="none" />
<rect x="283.7" y="313.6" width="3.4" height="20.8" stroke-width="1.1" fill="#fff" />
<rect x="287.1" y="315.6" width="4.6" height="16.6" stroke-width="1.1" fill="#fff" />
<line x1="289.5" y1="315.6" x2="289.5" y2="332.2" stroke-width="1.0" />
<path d="M291.6,318.3 L296.4,321.6 L296.4,326.6 L291.6,329.8 Z" stroke-width="1.3" fill="#fff" />
<path d="M293.4,320.6 L293.4,327.6" stroke-width="1.0" fill="none" />
<circle cx="306.6" cy="323.7" r="10.1" stroke-width="1.6" fill="#fff" />
<path d="M313.5,316 L318,318.8 L318,328.4 L313.5,331.6" stroke-width="1.3" fill="#fff" />
<path d="M297.5,321.5 Q306,319.5 317.7,321.6 M297.5,326.4 Q306,328.4 317.7,326.4" stroke-width="0.8" fill="none" />
<path d="M301,315.5 Q299.5,324 301,332.5 M311.8,315.5 Q313.3,324 311.8,332.5" stroke-width="0.8" fill="none" />
<rect x="317.7" y="315.7" width="4.0" height="16.6" stroke-width="1.1" fill="#fff" />
<line x1="319.5" y1="315.7" x2="319.5" y2="332.3" stroke-width="1.0" />
<line x1="321.7" y1="318.5" x2="324.3" y2="318.5" stroke-width="1.0" />
<line x1="321.7" y1="330.5" x2="324.3" y2="330.5" stroke-width="1.0" />
<rect x="324.3" y="315.7" width="3.2" height="16.6" stroke-width="1.1" fill="#fff" />
<line x1="326.9" y1="315.7" x2="326.9" y2="332.3" stroke-width="1.4" />
</g>
<g id="front">
<line x1="468.5" y1="405" x2="468.5" y2="479" stroke-width="1.0" />
<line x1="543.5" y1="395" x2="543.5" y2="479" stroke-width="1.0" />
<line x1="502.5" y1="304" x2="502.5" y2="479" stroke-width="0.7" stroke-dasharray="16 2 2 2"/>
<line x1="468.3" y1="476.5" x2="543.6" y2="476.5" stroke-width="1.0" />
<path d="M468.50,476.50 L475.00,475.20 L475.00,477.80 Z" fill="#000" stroke="none"/>
<path d="M502.50,476.50 L496.00,477.80 L496.00,475.20 Z" fill="#000" stroke="none"/>
<path d="M502.50,476.50 L509.00,475.20 L509.00,477.80 Z" fill="#000" stroke="none"/>
<path d="M543.50,476.50 L537.00,477.80 L537.00,475.20 Z" fill="#000" stroke="none"/>
<text x="485.1" y="474.8" font-size="9.3" text-anchor="middle" font-weight="normal" fill="#000" stroke="#000" stroke-width="0.5" textLength="23.3" lengthAdjust="spacingAndGlyphs" >630.3</text>
<text x="523.8" y="474.8" font-size="9.3" text-anchor="middle" font-weight="normal" fill="#000" stroke="#000" stroke-width="0.5" textLength="22.8" lengthAdjust="spacingAndGlyphs" >782.5</text>
<line x1="466.5" y1="406.5" x2="547" y2="406.5" stroke-width="0.7" stroke-dasharray="20 2 2 2"/>
<line x1="515.3" y1="315.8" x2="546.5" y2="297" stroke-width="1.0" />
<path d="M515.30,315.80 L519.82,311.67 L521.06,313.73 Z" fill="#000" stroke="none"/>
<text x="532.3" y="303.4" font-size="8.8" text-anchor="middle" font-weight="normal" fill="#000" stroke="#000" stroke-width="0.42" textLength="27" lengthAdjust="spacingAndGlyphs" transform="rotate(-31.1 532.3 303.4)" >R 288</text>
<path d="M505.76,308.84 A15.7,15.7 0 0 1 517.86,320.94" stroke-width="0.8" fill="none" stroke-dasharray="4 1.5 1 1.5"/>
<path d="M488.8,316 Q489.5,310.5 495.5,308.6 L508.5,308.6 Q514,310 514.3,315.5 L514.3,333 L511,335.5 L491,335.5 L488.8,333 Z" stroke-width="1.2" fill="#fff" />
<path d="M487.04,321.47 A15.7,15.7 0 0 1 501.13,308.56" stroke-width="0.8" fill="none" stroke-dasharray="3 1.5"/>
<path d="M489.3,312.5 L489.3,334 M492.5,310.2 L492.5,335.3 M495.5,309 L495.5,318 M495.5,330.5 L495.5,335.3" stroke-width="1.5" fill="none" />
<path d="M488.8,319.5 L492.5,319.5 M488.8,323.5 L492.5,323.5 M488.8,327.5 L492.5,327.5 M488.8,331 L492.5,331" stroke-width="1.0" fill="none" />
<path d="M497.5,309 L497.5,313 M500,308.8 L500,312 M505,308.8 L505,312 M507.5,309 L507.5,313" stroke-width="1.1" fill="none" />
<path d="M496.5,313.5 L508.5,313.5" stroke-width="0.9" fill="none" stroke-dasharray="2 1"/>
<circle cx="502.5" cy="324.2" r="9.2" stroke-width="0.9" fill="none" />
<circle cx="502.5" cy="324.2" r="6.6" stroke-width="2.1" fill="#fff" />
<circle cx="502.5" cy="324.2" r="4.3" stroke-width="1.0" fill="none" />
<path d="M499.4,322.8 L505.6,322.8 M502.5,322.8 L502.5,327.3" stroke-width="1.4" fill="none" />
<path d="M495.5,330 L499,335.5 M509.5,330 L506,335.5 M497.5,332.8 L507.5,332.8" stroke-width="1.1" fill="none" />
<path d="M510.8,314 L512.8,316 L512.8,332 L510.3,334" stroke-width="1.0" fill="none" />
<path d="M484.3,335.6 L497.7,335.6 L497.7,346 L484.3,346 Z" stroke-width="1.3" fill="#fff" />
<path d="M482.6,337.3 L484.3,337.3 L484.3,344.6 L482.6,344.6 Z" stroke-width="1.1" fill="none" />
<path d="M485.8,335.6 L485.8,346" stroke-width="1.0" fill="none" />
<path d="M485.8,338.3 L497,338.3 M485.8,343.6 L497,343.6" stroke-width="0.9" fill="none" />
<line x1="481" y1="340.5" x2="512" y2="340.5" stroke-width="0.7" stroke-dasharray="5 1.5 1.5 1.5"/>
<path d="M485.8,346 L485.8,348.3 L488.6,349.4 M487.3,346 L487.3,347.6" stroke-width="1.1" fill="none" />
<path d="M497.7,336 L497.7,349 L503,352.4 L503,355.6 L506,355.2 L513.5,356.5" stroke-width="1.3" fill="none" />
<path d="M499.5,336 L501,347.3 L505,347.3 L506,336 M505,347.3 L505,352 M508,337 L508,354.6 M511,337 L511,355.6" stroke-width="1.1" fill="none" />
<path d="M500,342.6 L505.4,342.6" stroke-width="1.9" fill="none" />
<path d="M500.5,339 L505,339" stroke-width="1.2" fill="none" />
<path d="M498,349.3 L505,349.3 M503,352.4 L508,352.4" stroke-width="1.2" fill="none" />
<path d="M506,336 L513.5,336 M506.5,339 L513,339" stroke-width="1.0" fill="none" />
<path d="M513.5,319.8 L523.3,321.5 L523.3,351 L519.5,356.5 L513.5,356.5 Z" stroke-width="1.1" fill="#fff" />
<line x1="518.5" y1="326.5" x2="518.5" y2="354.5" stroke-width="1.0" />
<line x1="520.5" y1="322" x2="520.5" y2="353" stroke-width="1.0" />
<path d="M514.3,322 L519.5,320.5" stroke-width="0.9" fill="none" />
<path d="M519.5,321 Q533,319.5 541.5,326.5 Q548.8,333 547.8,339 Q546.5,344.5 539.8,347" stroke-width="1.0" fill="none" />
<path d="M523.3,323.8 Q533,322.8 539.5,328.3 Q545.5,333.5 545,338.5 Q544,343 538.8,345" stroke-width="1.0" fill="none" />
<path d="M538,345 L540.5,348 M539.5,344 L542,347" stroke-width="1.1" fill="none" />
<path d="M529.5,328 Q535.5,338 536.3,350 Q537.3,366 533.5,384 L528.5,404" stroke-width="1.1" fill="none" />
<path d="M526.5,330 Q532.5,340 533.4,352 Q534.3,368 530.5,386 L527,402" stroke-width="0.9" fill="none" />
<path d="M523.3,351 Q523.5,362 520,374 Q517.5,382 513,390 L505.5,391.5" stroke-width="1.1" fill="none" />
<path d="M523.3,340 L531.5,340 M523.3,343 L532,343" stroke-width="0.8" fill="none" />
<path d="M521,358 Q521,366 518,376 Q516,382 511.5,389" stroke-width="0.8" fill="none" />
<path d="M519,357 L519,362 M517.3,357 L517.3,366" stroke-width="0.8" fill="none" />
<path d="M485.8,386.6 L494.8,386.6 L494.8,428 L485.8,428 Z" stroke-width="1.2" fill="#fff" />
<line x1="489.4" y1="387" x2="489.4" y2="423.5" stroke-width="2.6" />
<line x1="486.5" y1="387" x2="486.5" y2="428" stroke-width="1.0" />
<line x1="492.5" y1="388" x2="492.5" y2="427" stroke-width="1.0" />
<path d="M486,423.5 L494.8,423.5" stroke-width="0.9" fill="none" />
<path d="M482.2,395.6 L485.8,395.6 L485.8,402.8 L482.2,402.8 Z" stroke-width="1.1" fill="#fff" />
<path d="M483.3,396.5 L483.3,402" stroke-width="1.3" fill="none" />
<path d="M482.6,417 L485.8,417 L485.8,424.5 L482.6,424.5 Z" stroke-width="1.0" fill="none" />
<path d="M483,428 L483,435 M487.5,428 L487.5,443.4 M485,428 L485,443.4" stroke-width="1.0" fill="none" />
<path d="M484,430 L484,442" stroke-width="1.4" fill="none" stroke-dasharray="2 1.5"/>
<path d="M470.3,405.8 L484.5,405.8 L484.5,415.5 L470.3,415.5 Z" stroke-width="1.2" fill="#fff" />
<path d="M470.3,409.6 L484.5,409.6 M470.3,413.4 L484.5,413.4" stroke-width="1.0" fill="none" />
<path d="M471.6,415.5 L471.6,418 L475,418.6" stroke-width="1.1" fill="none" />
<path d="M494.8,391.4 L503.8,391.4 L503.8,430.5 L494.8,430.5" stroke-width="1.2" fill="#fff" />
<path d="M496.2,392 L496.2,430" stroke-width="1.3" fill="none" stroke-dasharray="3 1.2"/>
<path d="M499.5,396 L499.5,428" stroke-width="0.7" fill="none" />
<line x1="503.8" y1="399.2" x2="503.8" y2="422" stroke-width="1.8" />
<rect x="503.8" y="391.6" width="6" height="3.4" stroke-width="0.9" fill="#333" />
<rect x="503.8" y="398" width="3" height="1.8" stroke-width="0.8" fill="#333" />
<path d="M503.8,391.4 L510.4,392 L512.8,389.6" stroke-width="1.1" fill="none" />
<path d="M509.8,395 L512,395 L512,398" stroke-width="0.9" fill="none" />
<ellipse cx="516.6" cy="413.5" rx="7.9" ry="10.9" stroke-width="1.4" fill="none" />
<ellipse cx="516.6" cy="413.5" rx="5.7" ry="8.6" stroke-width="1.0" fill="none" />
<path d="M510.4,416.2 Q516,410.2 522.4,410.4" stroke-width="1.2" fill="none" />
<path d="M511.6,419 Q516.5,414 522,413.6" stroke-width="0.8" fill="none" />
<path d="M508.3,402.8 L527.5,402.8" stroke-width="0.9" fill="none" />
<path d="M523.6,404 L530.8,405.8 L536.8,408.8 Q536.6,413 534.4,416 Q531.5,421 528.4,424.4 Q524,427.5 517.6,428" stroke-width="1.2" fill="none" />
<path d="M524.4,407 L530,408.6 Q532.6,410 532,413 Q530.4,418 526.6,421.8 Q523.5,424.8 519,425.6" stroke-width="1.0" fill="none" />
<path d="M527.5,411 L531.5,412.5 M525.5,418 L528.5,420.5" stroke-width="1.0" fill="none" />
<rect x="524.6" y="421.4" width="2.6" height="1.8" stroke-width="0.8" fill="#333" />
<path d="M538,395 L544,395 L544,410 Q543.6,417 541.6,422 Q537.5,428.5 530.8,431.6 L524.8,432.8 L511.5,432.8" stroke-width="1.3" fill="none" />
<path d="M538,395 L538,398 L540,398 M540,395 L540,410 Q539.4,417 537.6,421 Q534,427 528.4,429.6 L522,430.6" stroke-width="1.0" fill="none" />
<path d="M538,398 L536.8,400 L536.8,408.8" stroke-width="1.0" fill="none" />
<path d="M542,397 L542,409" stroke-width="0.8" fill="none" />
<path d="M534.4,384 L535,388 L534.4,390.8" stroke-width="1.0" fill="none" />
<path d="M494.8,430.5 L509,430.5 L511.5,432.8" stroke-width="1.1" fill="none" />
<path d="M497,423.2 L513,423.2 M499,426.2 L514,426.2" stroke-width="1.1" fill="none" />
<path d="M499,424.7 L512,424.7" stroke-width="1.6" fill="none" stroke-dasharray="1.8 1.1"/>
<path d="M503.8,422 L503.8,430.5 M506.5,423 L506.5,430.5 M509.5,423 L509.5,430" stroke-width="0.9" fill="none" />
<rect x="503.2" y="431.2" width="6.2" height="4.6" stroke-width="1.0" fill="#fff" />
<path d="M495,428 Q495,431.5 499,432" stroke-width="1.0" fill="none" />
<path d="M490,432.6 L526,432.6 M483,435.4 L490,435.4 L490,432.6 M526,432.6 L529,435.4 L529.8,443.4 M483,435.4 L483,443.4" stroke-width="1.1" fill="none" />
<path d="M470.5,443.4 L532,443.4 L532,446.1 L470.5,446.1 Z" stroke-width="0.8" fill="#000" />
<path d="M471.5,446 L533,446 L535.3,449.5 L535.3,461.8 L469.8,461.8 L469.8,449.5 Z" stroke-width="1.2" fill="#fff" />
<path d="M492.3,460.3 L492.3,452.8 L512.6,452.8 L512.6,460.3" stroke-width="1.7" fill="none" />
<path d="M489.5,461.8 L489.5,460.3 L492.3,460.3 M512.6,460.3 L515.4,460.3 L515.4,461.8" stroke-width="1.2" fill="none" />
<path d="M482.8,448.8 L476,458.8 L478.6,458.8 L484.8,448.8 Z" stroke-width="0.8" fill="#111" />
<path d="M520.6,448.8 L527.8,458.8 L525.2,458.8 L518.6,448.8 Z" stroke-width="0.8" fill="#111" />
<path d="M487,448.6 L481.5,459 M516.4,448.6 L522.3,459" stroke-width="0.9" fill="none" />
<path d="M469.8,459.9 L489.5,459.9 M515.4,459.9 L535.3,459.9" stroke-width="1.1" fill="none" />
<path d="M471,461 L489,461 M516,461 L535,461" stroke-width="1.0" fill="none" stroke-dasharray="5 1.5"/>
<path d="M471.6,451 L471.6,459 M533.6,451 L533.6,459" stroke-width="1.0" fill="none" />
<path d="M469.8,455 L473,455 L473,459.9 M535.3,455 L532.5,455 L532.5,459.9" stroke-width="1.2" fill="none" />
<path d="M500.8,447 L504.4,447 L502.6,450 Z" stroke-width="0.6" fill="#000" />
</g>
<g id="title" fill="#000" stroke="none">
<text x="443.4" y="133.8" font-size="19.5" font-weight="bold" text-anchor="start" fill="#000" stroke="none" textLength="134.4" lengthAdjust="spacingAndGlyphs">M-1000<tspan font-style="italic">i</tspan>A</text>
</g>
</svg></body></html>
